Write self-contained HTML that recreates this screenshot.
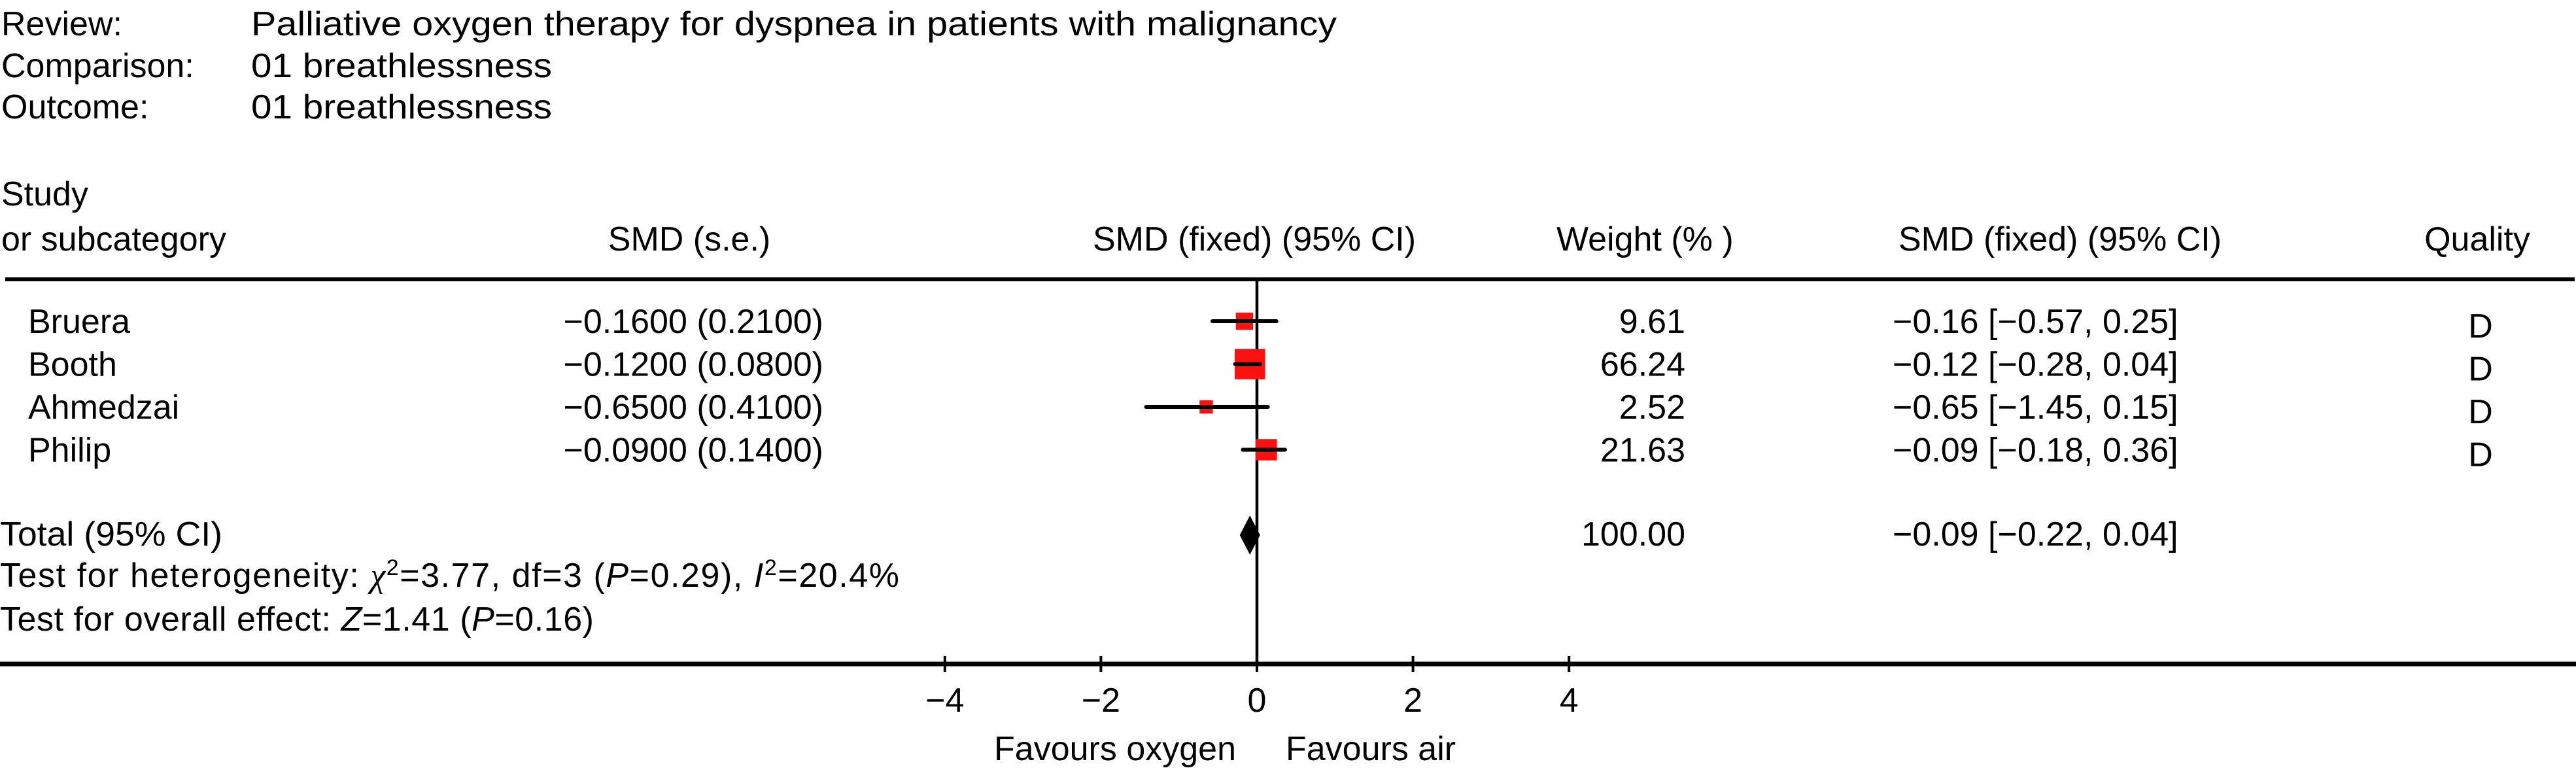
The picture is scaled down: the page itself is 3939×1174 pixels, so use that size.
<!DOCTYPE html>
<html><head><meta charset="utf-8"><style>
html,body{margin:0;padding:0;background:#fff;}
svg{display:block;}
text{font-family:"Liberation Sans",Arial,sans-serif;font-size:52px;fill:#000;}
</style></head><body>
<svg id="chart" width="3939" height="1174" viewBox="0 0 3939 1174" xmlns="http://www.w3.org/2000/svg">
<g>
<text x="2" y="54">Review:</text>
<text x="384" y="54" textLength="1660" lengthAdjust="spacingAndGlyphs">Palliative oxygen therapy for dyspnea in patients with malignancy</text>
<text x="2" y="118">Comparison:</text>
<text x="384" y="118" textLength="460" lengthAdjust="spacingAndGlyphs">01 breathlessness</text>
<text x="2" y="181">Outcome:</text>
<text x="384" y="181" textLength="460" lengthAdjust="spacingAndGlyphs">01 breathlessness</text>
</g>
<g>
<text x="2" y="314">Study</text>
<text x="2" y="383">or subcategory</text>
<text x="1054" y="383" text-anchor="middle">SMD (s.e.)</text>
<text x="1918" y="383" text-anchor="middle">SMD (fixed) (95% CI)</text>
<text x="2380" y="383">Weight (% )</text>
<text x="3150" y="383" text-anchor="middle">SMD (fixed) (95% CI)</text>
<text x="3788" y="383" text-anchor="middle">Quality</text>
</g>
<line x1="8" y1="427" x2="3937" y2="427" stroke="#000" stroke-width="6"/>
<g id="rows"></g>
<g id="plot"></g>
<g>
<text x="0" y="834" textLength="340" lengthAdjust="spacingAndGlyphs">Total (95% CI)</text>
<text x="2577" y="834" text-anchor="end">100.00</text>
<text x="2894" y="834">−0.09 [−0.22, 0.04]</text>
<text x="0" y="897" textLength="1375" lengthAdjust="spacing">Test for heterogeneity: <tspan font-family="Liberation Serif" font-style="italic">χ</tspan><tspan dy="-18" font-size="34">2</tspan><tspan dy="18">=3.77, df=3 (</tspan><tspan font-style="italic">P</tspan>=0.29), <tspan font-style="italic">I</tspan><tspan dy="-18" font-size="34">2</tspan><tspan dy="18">=20.4%</tspan></text>
<text x="0" y="964" textLength="908" lengthAdjust="spacing">Test for overall effect: <tspan font-style="italic">Z</tspan>=1.41 (<tspan font-style="italic">P</tspan>=0.16)</text>
</g>
<text x="1890" y="1162" text-anchor="end">Favours oxygen</text>
<text x="1966" y="1162">Favours air</text>
</svg>
<script>
const studies = ["Bruera","Booth","Ahmedzai","Philip"];
const smdText = ["−0.1600 (0.2100)","−0.1200 (0.0800)","−0.6500 (0.4100)","−0.0900 (0.1400)"];
const estimates = [-0.16,-0.09,-0.65,0.12];
const lowers = [-0.57,-0.28,-1.42,-0.18];
const uppers = [0.25,0.04,0.14,0.36];
const weights = [9.61,66.24,2.52,21.63];
const weightText = ["9.61","66.24","2.52","21.63"];
const ciText = ["−0.16 [−0.57, 0.25]","−0.12 [−0.28, 0.04]","−0.65 [−1.45, 0.15]","−0.09 [−0.18, 0.36]"];
const quality = ["D","D","D","D"];
const totalEst = -0.09;
const totalLo = -0.22;
const totalHi = 0.04;
const ticks = [-4,-2,0,2,4];
const tickLabels = ["−4","−2","0","2","4"];

const NS = "http://www.w3.org/2000/svg";
const x = v => 1922 + v * 119.3;
const rowY = i => 491 + i * 65.5;
function mk(tag, attrs, parent){const e=document.createElementNS(NS,tag);for(const k in attrs)e.setAttribute(k,attrs[k]);parent.appendChild(e);return e;}
const rows = document.getElementById('rows');
const plot = document.getElementById('plot');

let vl = mk('line',{x1:x(0),y1:427,x2:x(0),y2:1015,stroke:'#000','stroke-width':4.5},plot);


let ax = mk('line',{x1:0,y1:1015,x2:3939,y2:1015,stroke:'#000','stroke-width':7},plot);


ticks.forEach((t,i)=>{
  const tk = mk('line',{x1:x(t),y1:1003,x2:x(t),y2:1027,stroke:'#000','stroke-width':4},plot);
  
  
  const tl = mk('text',{x:x(t),y:1088,'text-anchor':'middle'},plot);
  tl.textContent = tickLabels[i];
  
  
});

studies.forEach((s,i)=>{
  const y = rowY(i);
  const n = mk('text',{x:43,y:y+18},rows); n.textContent=s;
  
  
  const sm = mk('text',{x:1259,y:y+18,'text-anchor':'end'},rows); sm.textContent=smdText[i];
  
  
  const w = mk('text',{x:2577,y:y+18,'text-anchor':'end'},rows); w.textContent=weightText[i];
  
  
  const c = mk('text',{x:2894,y:y+18},rows); c.textContent=ciText[i];
  
  
  const q = mk('text',{x:3793,y:y+25,'text-anchor':'middle'},rows); q.textContent=quality[i];
  
  
  const sz = 14 + 4*Math.sqrt(weights[i]);
  const sq = mk('rect',{x:x(estimates[i])-sz/2,y:y-sz/2,width:sz,height:sz,fill:'#ff1010'},plot);
  
  
  const ci = mk('line',{x1:x(lowers[i]),y1:y,x2:x(uppers[i]),y2:y,stroke:'#000','stroke-width':6,'stroke-linecap':'round'},plot);
  
  
});

const dy = 818;
const dm = mk('polygon',{points:`${x(totalLo)},${dy} ${x(totalEst)},${dy-30} ${x(totalHi)},${dy} ${x(totalEst)},${dy+30}`,fill:'#000'},plot);


</script>
</body></html>
